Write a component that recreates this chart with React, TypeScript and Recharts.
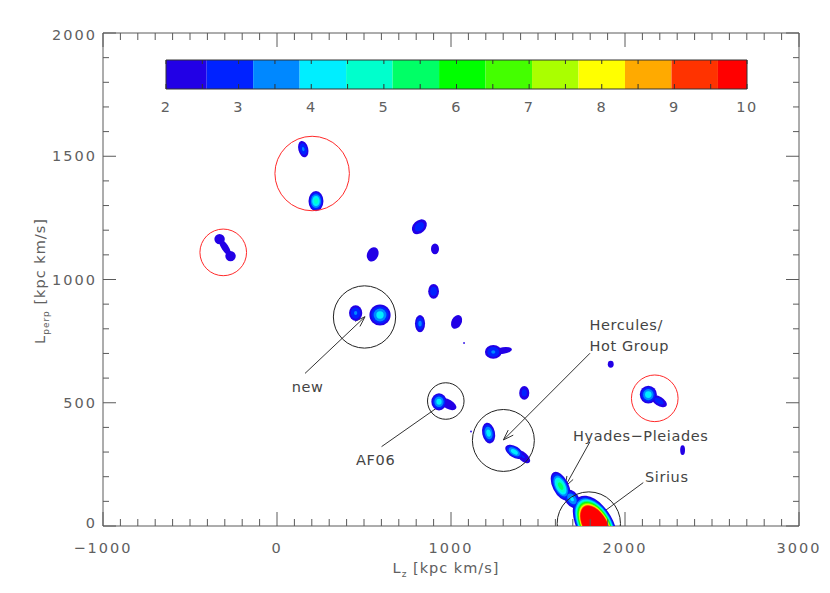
import React from 'react';
import { ScatterChart, Scatter, XAxis, YAxis, ReferenceLine, ReferenceArea } from 'recharts';

// ---------- layout ----------
const CHART_W = 814;
const CHART_H = 577;
const PLOT_LEFT = 95;
const PLOT_TOP = 25;
const PLOT_W = 696;
const PLOT_H = 493;
const PLOT_BOTTOM = PLOT_TOP + PLOT_H;
const PLOT_RIGHT = PLOT_LEFT + PLOT_W;
const LZ_MIN = -1000;
const LZ_MAX = 3000;
const LP_MIN = 0;
const LP_MAX = 2000;
const KX = PLOT_W / (LZ_MAX - LZ_MIN);
const KY = PLOT_H / (LP_MAX - LP_MIN);

const FONT = '"DejaVu Sans", sans-serif';
const AXIS_COLOR = '#5a5a5a';
const TEXT_COLOR = '#606060';

// ---------- axis ticks ----------
const lzTicks = [
  -1000, -900, -800, -700, -600, -500, -400, -300, -200, -100,
  0, 100, 200, 300, 400, 500, 600, 700, 800, 900,
  1000, 1100, 1200, 1300, 1400, 1500, 1600, 1700, 1800, 1900,
  2000, 2100, 2200, 2300, 2400, 2500, 2600, 2700, 2800, 2900, 3000,
];
const lpTicks = [
  0, 100, 200, 300, 400, 500, 600, 700, 800, 900, 1000,
  1100, 1200, 1300, 1400, 1500, 1600, 1700, 1800, 1900, 2000,
];

// ---------- colour scale ----------
const levelValues = [2, 2.56, 3.2, 3.84, 4.48, 5.12, 5.76, 6.4, 7.04, 7.68, 8.32, 8.96, 9.6];
const levelColors = [
  '#2200e6', '#0022ff', '#0088ff', '#00eeff', '#00ffcc', '#00ff66', '#00ff00',
  '#44ff00', '#aaff00', '#ffff00', '#ffaa00', '#ff3300', '#ff0000',
];
const colorbarMax = 10;
const colorbarLabels = [2, 3, 4, 5, 6, 7, 8, 9, 10];
const colorbarMinorTicks = [2, 2.5, 3, 3.5, 4, 4.5, 5, 5.5, 6, 6.5, 7, 7.5, 8, 8.5, 9, 9.5, 10];

// ---------- density clumps (contour blobs) ----------
const blobLz = [151, 224, -330, -267, -299, 818, 550, 908, 900, 452, 592, 822, 1032, 1075, 1243, 1300, 931, 985, 1421, 1115, 1216, 1364, 1415, 1918, 2134, 2195, 2331, 1630, 1695, 1828];
const blobLp = [1529, 1318, 1164, 1095, 1130, 1214, 1102, 1124, 952, 864, 856, 821, 828, 742, 706, 712, 504, 494, 540, 383, 377, 301, 281, 656, 533, 507, 308, 162, 110, 5];
const blobPeak = [3.3, 4.8, 2.3, 2.3, 2.3, 3.0, 2.4, 2.3, 3.0, 3.3, 4.2, 3.4, 2.4, 2.05, 3.3, 2.3, 4.2, 2.5, 2.8, 2.05, 4.2, 4.3, 2.6, 2.3, 4.3, 2.9, 2.3, 5.5, 4.0, 30];
const blobSpreadLz = [30, 43, 30, 30, 35, 43, 34, 23, 31, 38, 61, 29, 32, 5, 48, 50, 44, 46, 29, 5, 38, 52, 40, 17, 49, 46, 14, 57, 48, 128];
const blobSpreadLp = [33, 41, 21, 21, 35, 30, 29, 22, 30, 32, 43, 35, 28, 4, 28, 14, 35, 24, 28, 4, 42, 29, 26, 14, 36, 25, 20, 58, 38, 118];
const blobTilt = [-0.25, 0, 0, 0, -0.76, 0.3, 0.2, 0, 0, 0, 0, 0, 0.3, 0, 0, 0.3, 0, -0.5, 0, 0, -0.2, -0.5, -0.6, 0, 0, -0.55, 0, -0.5, -0.4, -0.47];

const blobs = blobLz.map((lz, i) => ({
  lz,
  lp: blobLp[i],
  peak: blobPeak[i],
  sLz: blobSpreadLz[i],
  sLp: blobSpreadLp[i],
  tilt: blobTilt[i],
}));

// ---------- circles ----------
const blackCircleLz = [503, 970, 1301, 1792];
const blackCircleLp = [848, 507, 347, 10];
const blackCircleR = [179, 105, 178, 182];
const redCircleLz = [202, -309, 2171];
const redCircleLp = [1430, 1110, 518];
const redCircleR = [214, 134, 134];

const blackCircles = blackCircleLz.map((lz, i) => ({ lz, lp: blackCircleLp[i], r: blackCircleR[i] }));
const redCircles = redCircleLz.map((lz, i) => ({ lz, lp: redCircleLp[i], r: redCircleR[i] }));

// ---------- annotations ----------
const labelText = ['new', 'AF06', 'Hercules/', 'Hot Group', 'Hyades\u2212Pleiades', 'Sirius'];
const labelLz = [176, 567, 1796, 1796, 1701, 2115];
const labelLp = [565, 268, 815, 730, 365, 199];
const labelAnchor = ['middle', 'middle', 'start', 'start', 'start', 'start'];
const labels = labelText.map((text, i) => ({ lz: labelLz[i], lp: labelLp[i], text, anchor: labelAnchor[i] }));

const arrowFromLz = [161, 601, 1799, 1799, 2105];
const arrowFromLp = [619, 322, 701, 342, 176];
const arrowToLz = [506, 975, 1301, 1655, 1799];
const arrowToLp = [849, 507, 349, 159, 17];

// ---------- helpers ----------
function ellipseGeom(sLz: number, sLp: number, tilt: number) {
  const sx = sLz * KX;
  const sy = sLp * KY;
  const a = sx * sx;
  const d = sy * sy;
  const c = -tilt * sx * sy;
  const tr = (a + d) / 2;
  const diff = (a - d) / 2;
  const disc = Math.sqrt(diff * diff + c * c);
  const l1 = tr + disc;
  const l2 = Math.max(tr - disc, 0.05);
  const theta = 0.5 * Math.atan2(2 * c, a - d);
  return { rx: Math.sqrt(l1), ry: Math.sqrt(l2), angle: (theta * 180) / Math.PI };
}

const makeLevelShape = (k: number) => (props: any) => {
  const p = props.payload || props;
  const level = levelValues[k];
  if (!(p.peak > level)) return <g />;
  const f = Math.sqrt(Math.log(p.peak / level) / Math.log(p.peak / levelValues[0]));
  const g = ellipseGeom(p.sLz, p.sLp, p.tilt);
  const cx = props.cx;
  const cy = props.cy;
  return (
    <ellipse
      cx={cx}
      cy={cy}
      rx={Math.max(g.rx * f, 0.4)}
      ry={Math.max(g.ry * f, 0.4)}
      transform={`rotate(${g.angle} ${cx} ${cy})`}
      fill={levelColors[k]}
      stroke="none"
    />
  );
};

const circleShape = (color: string) => (props: any) => {
  const p = props.payload || props;
  return <circle cx={props.cx} cy={props.cy} r={p.r * KX} fill="none" stroke={color} strokeWidth={1} />;
};

const labelShape = (props: any) => {
  const p = props.payload || props;
  return (
    <text
      x={props.cx}
      y={props.cy + 5}
      textAnchor={p.anchor}
      fontFamily={FONT}
      fontSize={14.5}
      letterSpacing={0.6}
      fill="#444"
    >
      {p.text}
    </text>
  );
};

const arrowShape = (props: any) => {
  const { x1, y1, x2, y2 } = props;
  if (![x1, y1, x2, y2].every((v) => typeof v === 'number' && isFinite(v))) return <g />;
  const ang = Math.atan2(y2 - y1, x2 - x1);
  const L = 11;
  const s = 0.33;
  const ax = x2 - L * Math.cos(ang - s);
  const ay = y2 - L * Math.sin(ang - s);
  const bx = x2 - L * Math.cos(ang + s);
  const by = y2 - L * Math.sin(ang + s);
  return (
    <g>
      <line x1={x1} y1={y1} x2={x2} y2={y2} stroke="#333" strokeWidth={1} />
      <polyline points={`${ax},${ay} ${x2},${y2} ${bx},${by}`} fill="none" stroke="#333" strokeWidth={1} />
    </g>
  );
};

const XTick = (props: any) => {
  const x = props.x;
  const v = props.payload.value;
  const major = v % 1000 === 0;
  const len = major ? 14 : 7;
  return (
    <g>
      <line x1={x} x2={x} y1={PLOT_BOTTOM} y2={PLOT_BOTTOM - len} stroke={AXIS_COLOR} strokeWidth={1} />
      <line x1={x} x2={x} y1={PLOT_TOP} y2={PLOT_TOP + len} stroke={AXIS_COLOR} strokeWidth={1} />
      {major && (
        <text x={x} y={PLOT_BOTTOM + 27} textAnchor="middle" fontFamily={FONT} fontSize={14.5} letterSpacing={2} fill={TEXT_COLOR}>
          {v < 0 ? `\u2212${Math.abs(v)}` : `${v}`}
        </text>
      )}
    </g>
  );
};

const YTick = (props: any) => {
  const y = props.y;
  const v = props.payload.value;
  const major = v % 500 === 0;
  const len = major ? 13 : 6;
  const shift = v === LP_MIN ? 2 : v === LP_MAX ? 7 : 5;
  return (
    <g>
      <line x1={PLOT_LEFT} x2={PLOT_LEFT + len} y1={y} y2={y} stroke={AXIS_COLOR} strokeWidth={1} />
      <line x1={PLOT_RIGHT} x2={PLOT_RIGHT - len} y1={y} y2={y} stroke={AXIS_COLOR} strokeWidth={1} />
      {major && (
        <text x={PLOT_LEFT - 6} y={y + shift} textAnchor="end" fontFamily={FONT} fontSize={14.5} letterSpacing={2} fill={TEXT_COLOR}>
          {`${v}`}
        </text>
      )}
    </g>
  );
};

// ---------- colour bar layout ----------
const CB_LEFT = 158;
const CB_RIGHT = 739;
const CB_TOP = 52;
const CB_H = 29;
const CB_CHART_H = 120;

const CbTick = (props: any) => {
  const x = props.x;
  const v = props.payload.value;
  const isLabel = colorbarLabels.includes(v);
  const bottom = CB_TOP + CB_H;
  return (
    <g>
      <line x1={x} x2={x} y1={bottom} y2={bottom - 5} stroke="#333" strokeWidth={1} />
      <line x1={x} x2={x} y1={CB_TOP} y2={CB_TOP + 4} stroke="#333" strokeWidth={1} />
      {isLabel && (
        <text x={x} y={bottom + 23} textAnchor="middle" fontFamily={FONT} fontSize={14.5} letterSpacing={1.5} fill={TEXT_COLOR}>
          {`${v}`}
        </text>
      )}
    </g>
  );
};

const colorbarBands = levelValues.map((lo, i) => ({
  lo,
  hi: i < levelValues.length - 1 ? levelValues[i + 1] : colorbarMax,
  color: levelColors[i],
  y: 0.5,
}));

export default function App() {
  return (
    <div style={{ position: 'relative', width: CHART_W, height: CHART_H }}>
      <ScatterChart
        width={CHART_W}
        height={CHART_H}
        margin={{ top: PLOT_TOP, right: CHART_W - PLOT_RIGHT, bottom: 0, left: 0 }}
      >
        {levelValues.map((_, k) => (
          <Scatter
            key={`lvl${k}`}
            data={blobs}
            shape={makeLevelShape(k)}
            isAnimationActive={false}
          />
        ))}
        <Scatter data={blackCircles} shape={circleShape('#222')} isAnimationActive={false} />
        <Scatter data={redCircles} shape={circleShape('#ff2a2a')} isAnimationActive={false} />
        <Scatter data={labels} shape={labelShape} isAnimationActive={false} />
        {arrowFromLz.map((lz, i) => (
          <ReferenceLine
            key={`arr${i}`}
            segment={[
              { x: lz, y: arrowFromLp[i] },
              { x: arrowToLz[i], y: arrowToLp[i] },
            ]}
            shape={arrowShape}
            ifOverflow="visible"
          />
        ))}
        <ReferenceLine y={LP_MAX} stroke={AXIS_COLOR} strokeWidth={1} ifOverflow="visible" />
        <ReferenceLine x={LZ_MAX} stroke={AXIS_COLOR} strokeWidth={1} ifOverflow="visible" />
        <XAxis
          type="number"
          dataKey="lz"
          domain={[LZ_MIN, LZ_MAX]}
          ticks={lzTicks}
          interval={0}
          allowDataOverflow
          height={CHART_H - PLOT_BOTTOM}
          tickLine={false}
          axisLine={{ stroke: AXIS_COLOR }}
          tick={(p: any) => <XTick {...p} />}
        />
        <YAxis
          type="number"
          dataKey="lp"
          domain={[LP_MIN, LP_MAX]}
          ticks={lpTicks}
          interval={0}
          allowDataOverflow
          width={PLOT_LEFT}
          tickLine={false}
          axisLine={{ stroke: AXIS_COLOR }}
          tick={(p: any) => <YTick {...p} />}
        />
      </ScatterChart>

      <div style={{ position: 'absolute', left: 0, top: 0, pointerEvents: 'none' }}>
        <ScatterChart
          width={CHART_W}
          height={CB_CHART_H}
          margin={{ top: CB_TOP, right: CHART_W - CB_RIGHT, bottom: 0, left: CB_LEFT }}
        >
          {colorbarBands.map((b, i) => (
            <ReferenceArea
              key={`cb${i}`}
              x1={b.lo}
              x2={b.hi}
              y1={0}
              y2={1}
              fill={b.color}
              fillOpacity={1}
              stroke="none"
              ifOverflow="visible"
            />
          ))}
          <ReferenceArea x1={2} x2={colorbarMax} y1={0} y2={1} fill="none" stroke="#333" strokeWidth={1} ifOverflow="visible" />
          <Scatter data={colorbarBands} dataKey="y" shape={() => <g />} isAnimationActive={false} />
          <XAxis
            type="number"
            dataKey="lo"
            domain={[2, colorbarMax]}
            ticks={colorbarMinorTicks}
            interval={0}
            height={CB_CHART_H - CB_TOP - CB_H}
            tickLine={false}
            axisLine={false}
            tick={(p: any) => <CbTick {...p} />}
          />
          <YAxis type="number" dataKey="y" domain={[0, 1]} hide width={0} />
        </ScatterChart>
      </div>

      <svg
        width={CHART_W}
        height={CHART_H}
        style={{ position: 'absolute', left: 0, top: 0, pointerEvents: 'none' }}
      >
        <text x={438} y={565} textAnchor="middle" fontFamily={FONT} fontSize={14.5} letterSpacing={1} fill={TEXT_COLOR}>
          L
          <tspan fontSize={9} dy={4}>z</tspan>
          <tspan dy={-4}>{' [kpc km/s]'}</tspan>
        </text>
        <text
          x={37}
          y={273}
          textAnchor="middle"
          fontFamily={FONT}
          fontSize={14.5}
          letterSpacing={1}
          fill={TEXT_COLOR}
          transform="rotate(-90 37 273)"
        >
          L
          <tspan fontSize={9} dy={4}>perp</tspan>
          <tspan dy={-4}>{' [kpc km/s]'}</tspan>
        </text>
      </svg>
    </div>
  );
}
